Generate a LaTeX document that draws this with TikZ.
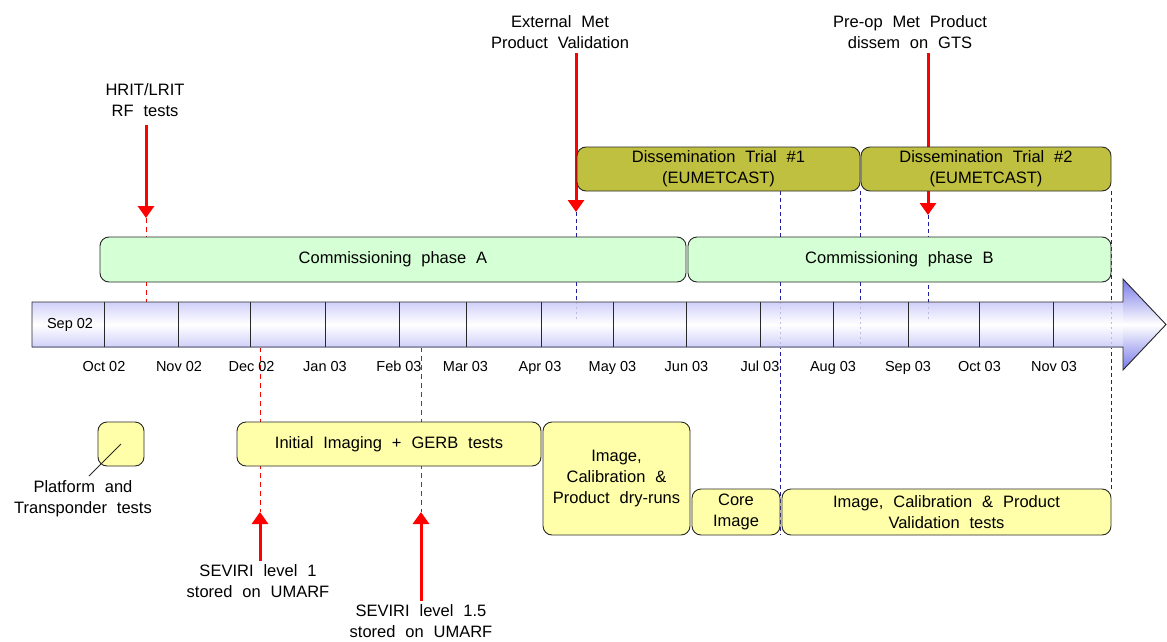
\documentclass[tikz,border=0pt]{standalone}
\usepackage{fontspec}
\setmainfont{Liberation Sans}
\usetikzlibrary{arrows.meta}
\definecolor{lav}{RGB}{208,208,250}
\definecolor{lavdark}{RGB}{120,120,232}
\definecolor{cgreen}{RGB}{213,255,213}
\definecolor{colive}{RGB}{192,192,64}
\definecolor{cyellow}{RGB}{255,255,170}
\definecolor{cnavy}{RGB}{30,30,160}
\definecolor{edge}{RGB}{40,40,40}
\definecolor{cred}{RGB}{255,0,0}
\newcommand\boxfont{\fontsize{16.5}{21}\selectfont\spaceskip=0.6em plus 0.1em\relax}
\newcommand\axfont{\fontsize{14.5}{17}\selectfont}
\begin{document}
\begin{tikzpicture}[x=1pt,y=-1pt,
  pbox/.style={draw=edge, line width=0.9pt, rounded corners=9pt, inner sep=0pt, align=center, font=\boxfont},
  gbox/.style={pbox, fill=cgreen},
  obox/.style={pbox, fill=colive},
  ybox/.style={pbox, fill=cyellow},
  lbl/.style={inner sep=0pt, align=center, font=\boxfont},
  axl/.style={inner sep=0pt, anchor=base, font=\axfont},
  redarrow/.style={cred, line width=3pt, -{Triangle[width=16pt,length=12pt]}},
  reddash/.style={cred, line width=0.9pt, dash pattern=on 5pt off 4pt},
  bluedash/.style={cnavy, line width=0.8pt, dash pattern=on 4pt off 3pt},
  faintdash/.style={cnavy!30, line width=0.8pt, dash pattern=on 2pt off 3pt},
  edgeline/.style={edge, line width=0.9pt}]
\useasboundingbox (0,0) rectangle (1167,642);

% coordinates
\coordinate (hritTip) at (146,218);
\coordinate (hritEnd) at (146,302);
\coordinate (extTip) at (576,212);
\coordinate (extEnd) at (576,302);
\coordinate (preTip) at (928,215);
\coordinate (preEnd) at (928,302);
\coordinate (sev1Tip) at (260,512);
\coordinate (sev1Top) at (260,347);
\coordinate (sev15Tip) at (421,512);
\coordinate (sev15Top) at (421,347);
\coordinate (julTop) at (780,191);
\coordinate (julEnd) at (780,535);
\coordinate (augTop) at (860,191);
\coordinate (augEnd) at (860,302);
\coordinate (endTop) at (1111,191);
\coordinate (endEnd) at (1111,490);
\coordinate (platEnd) at (89,476);

% text labels
\node[lbl] (hrit) at (145,100) {HRIT/LRIT\\RF tests};
\node[lbl] (ext) at (560,32) {External Met\\Product Validation};
\node[lbl] (pre) at (910,32) {Pre-op Met Product\\dissem on GTS};
\node[lbl] (sev1) at (258,581) {SEVIRI level 1\\stored on UMARF};
\node[lbl] (sev15) at (421,621) {SEVIRI level 1.5\\stored on UMARF};
\node[lbl] (platlbl) at (83,498.5) {Platform and\\Transponder tests};

% dashed guide lines
\draw[bluedash] (extTip) -- (extEnd);
\draw[bluedash] (preTip) -- (preEnd);
\draw[bluedash] (julTop) -- (julEnd);
\draw[bluedash] (augTop) -- (augEnd);
\draw[bluedash] (endTop) -- (endEnd);
\draw[reddash] (hritTip) -- (hritEnd);
\draw[reddash] (sev1Top) -- (sev1Tip);
\draw[reddash] (sev15Top) -- (sev15Tip);

% red arrows
\draw[redarrow, shorten <=8pt] (hrit.south -| hritTip) -- (hritTip);
\draw[redarrow, shorten <=4pt] (ext.south -| extTip) -- (extTip);
\draw[redarrow, shorten <=4pt] (pre.south -| preTip) -- (preTip);
\draw[redarrow, shorten <=3pt] (sev1.north -| sev1Tip) -- (sev1Tip);
\draw[redarrow, shorten <=3pt] (sev15.north -| sev15Tip) -- (sev15Tip);

% timeline arrow
\fill[top color=lav, bottom color=lav, middle color=white] (32,302) rectangle (1124,347);
\fill[top color=lavdark, bottom color=lavdark, middle color=white] (1123,279) -- (1166,324.5) -- (1123,370) -- cycle;
\draw[faintdash] (576,302) -- (576,320);
\draw[faintdash] (928,302) -- (928,320);
\draw[faintdash] (780,302) -- (780,347);
\draw[faintdash] (860,302) -- (860,347);
\draw[faintdash] (1111,302) -- (1111,347);
\draw[edgeline, line join=miter] (32,302) -- (1123,302) -- (1123,279) -- (1166,324.5) -- (1123,370) -- (1123,347) -- (32,347) -- cycle;
\foreach \x in {104,178.7,250.3,325.3,399,466.3,541,613,686.3,760.3,833.3,908.3,979.3,1053.7}
  \draw[edgeline] (\x,302) -- (\x,347);
\node[inner sep=0pt, font=\axfont] (sep02) at (70,325) {Sep 02};
\foreach \x/\t/\n in {104/Oct 02/a1,179/Nov 02/a2,251.5/Dec 02/a3,325/Jan 03/a4,399/Feb 03/a5,465.5/Mar 03/a6,540/Apr 03/a7,612.5/May 03/a8,686.5/Jun 03/a9,760/Jul 03/a10,833/Aug 03/a11,908/Sep 03/a12,979.5/Oct 03/a13,1054/Nov 03/a14}
  \node[axl] (\n) at (\x,371) {\t};

% phase boxes
\node[gbox, minimum width=586pt, minimum height=45pt] (phA) at (393,259.5) {Commissioning phase A};
\node[gbox, minimum width=423pt, minimum height=45pt] (phB) at (899.5,259.5) {Commissioning phase B};
\node[obox, minimum width=283pt, minimum height=44pt] (dt1) at (718.5,169) {Dissemination Trial \#1\\(EUMETCAST)};
\node[obox, minimum width=250pt, minimum height=44pt] (dt2) at (986,169) {Dissemination Trial \#2\\(EUMETCAST)};
\node[ybox, minimum width=46pt, minimum height=44pt] (plat) at (121,444) {};
\node[ybox, minimum width=304pt, minimum height=44pt] (init) at (389,444) {Initial Imaging + GERB tests};
\node[ybox, minimum width=147pt, minimum height=113pt] (dry) at (616.5,478.5) {Image,\\Calibration \&\\Product dry-runs};
\node[ybox, minimum width=88pt, minimum height=46pt] (core) at (736,512) {Core\\Image};
\node[ybox, minimum width=329pt, minimum height=46pt] (valid) at (946.5,512) {Image, Calibration \& Product\\Validation tests};

% platform callout line
\draw[edge, line width=0.8pt] (plat.center) -- (platEnd);
\end{tikzpicture}
\end{document}
